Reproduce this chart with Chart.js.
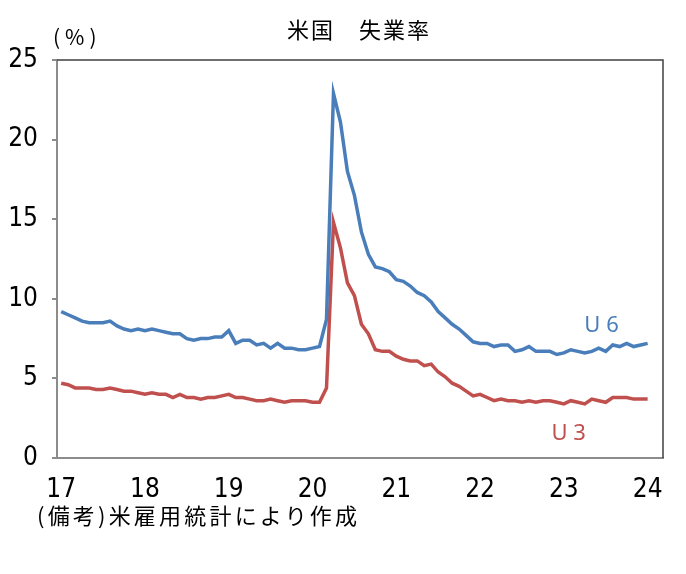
<!DOCTYPE html>
<html>
<head>
<meta charset="utf-8">
<script src="https://cdn.jsdelivr.net/npm/chart.js@4"></script>
<style>
  body { margin: 0; background: #fff; }
  #wrap { position: relative; width: 686px; height: 574px; }
  canvas { position: absolute; left: 0; top: 0; }
  .txt { position: absolute; font-family: "Noto Sans CJK JP", sans-serif; color: #000; white-space: nowrap; line-height: 1; }
  #title { left: 0; width: 718px; top: 17px; text-align: center; font-size: 22px; letter-spacing: 2px; }
  #unit { left: 53px; top: 26px; font-size: 21px; letter-spacing: 5px; }
  #note { left: 37px; top: 503px; font-size: 22px; letter-spacing: 3.2px; }
</style>
</head>
<body>
<div id="wrap">
  <canvas id="grafico" width="686" height="574"></canvas>
  <div class="txt" id="title">米国　失業率</div>
  <div class="txt" id="unit">(%)</div>
  <div class="txt" id="note">(備考)米雇用統計により作成</div>
</div>
<script>
// 月次データ 2017年1月〜2024年1月
const anos = ['17', '18', '19', '20', '21', '22', '23', '24'];

const u6 = [
  9.2, 9.0, 8.8, 8.6, 8.5, 8.5, 8.5, 8.6, 8.3, 8.1, 8.0, 8.1,
  8.0, 8.1, 8.0, 7.9, 7.8, 7.8, 7.5, 7.4, 7.5, 7.5, 7.6, 7.6,
  8.0, 7.2, 7.4, 7.4, 7.1, 7.2, 6.9, 7.2, 6.9, 6.9, 6.8, 6.8,
  6.9, 7.0, 8.7, 22.9, 21.1, 18.0, 16.5, 14.2, 12.8, 12.0, 11.9, 11.7,
  11.2, 11.1, 10.8, 10.4, 10.2, 9.8, 9.2, 8.8, 8.4, 8.1, 7.7, 7.3,
  7.2, 7.2, 7.0, 7.1, 7.1, 6.7, 6.8, 7.0, 6.7, 6.7, 6.7, 6.5,
  6.6, 6.8, 6.7, 6.6, 6.7, 6.9, 6.7, 7.1, 7.0, 7.2, 7.0, 7.1,
  7.2
];

const u3 = [
  4.7, 4.6, 4.4, 4.4, 4.4, 4.3, 4.3, 4.4, 4.3, 4.2, 4.2, 4.1,
  4.0, 4.1, 4.0, 4.0, 3.8, 4.0, 3.8, 3.8, 3.7, 3.8, 3.8, 3.9,
  4.0, 3.8, 3.8, 3.7, 3.6, 3.6, 3.7, 3.6, 3.5, 3.6, 3.6, 3.6,
  3.5, 3.5, 4.4, 14.8, 13.2, 11.0, 10.2, 8.4, 7.8, 6.8, 6.7, 6.7,
  6.4, 6.2, 6.1, 6.1, 5.8, 5.9, 5.4, 5.1, 4.7, 4.5, 4.2, 3.9,
  4.0, 3.8, 3.6, 3.7, 3.6, 3.6, 3.5, 3.6, 3.5, 3.6, 3.6, 3.5,
  3.4, 3.6, 3.5, 3.4, 3.7, 3.6, 3.5, 3.8, 3.8, 3.8, 3.7, 3.7,
  3.7
];

const AZUL = '#4a7ebb';
const VERMELHO = '#c0504d';
const FONTE_NUM = '"Liberation Sans Narrow", "DejaVu Sans Condensed", "Liberation Sans", sans-serif';

const pontos = arr => arr.map((v, i) => ({ x: i, y: v }));

// borda de cima/direita + rótulos U6 / U3
const extras = {
  id: 'extras',
  afterDraw(chart) {
    const { ctx, chartArea: a, scales: { x, y } } = chart;
    ctx.save();
    ctx.strokeStyle = '#404040';
    ctx.lineWidth = 1.5;
    ctx.beginPath();
    ctx.moveTo(a.left, a.top);
    ctx.lineTo(a.right, a.top);
    ctx.lineTo(a.right, a.bottom);
    ctx.stroke();

    ctx.font = '22px "Noto Sans", sans-serif';
    ctx.textAlign = 'center';
    ctx.textBaseline = 'middle';
    ctx.fillStyle = AZUL;
    ctx.fillText('U 6', x.getPixelForValue(77.4), y.getPixelForValue(8.3));
    ctx.fillStyle = VERMELHO;
    ctx.fillText('U 3', x.getPixelForValue(72.7), y.getPixelForValue(1.55));
    ctx.restore();
  }
};

new Chart(document.getElementById('grafico'), {
  type: 'line',
  data: {
    datasets: [
      { label: 'U6', data: pontos(u6), borderColor: AZUL, borderWidth: 3.5, pointRadius: 0, tension: 0 },
      { label: 'U3', data: pontos(u3), borderColor: VERMELHO, borderWidth: 3.5, pointRadius: 0, tension: 0 }
    ]
  },
  options: {
    responsive: false,
    animation: false,
    events: [],
    layout: { padding: { top: 60, right: 23, left: 0, bottom: 0 } },
    plugins: { legend: { display: false }, tooltip: { enabled: false } },
    scales: {
      x: {
        type: 'linear',
        min: -0.6,
        max: 86.2,
        afterFit: s => { s.height = 116; },
        afterBuildTicks: s => { s.ticks = anos.map((_, i) => ({ value: i * 12 })); },
        grid: { display: false, drawTicks: false },
        border: { display: true, color: '#8c8c8c', width: 2 },
        ticks: {
          padding: 17,
          maxRotation: 0,
          autoSkip: false,
          color: '#000',
          font: { family: FONTE_NUM, size: 26 },
          callback: v => anos[v / 12]
        }
      },
      y: {
        min: 0,
        max: 25,
        afterFit: s => { s.width = 57; },
        grid: { display: true, drawOnChartArea: false, drawTicks: true, tickLength: 5, color: '#8c8c8c', lineWidth: 2 },
        border: { display: true, color: '#8c8c8c', width: 2 },
        ticks: {
          stepSize: 5,
          padding: 14,
          color: '#000',
          font: { family: FONTE_NUM, size: 26 }
        }
      }
    }
  },
  plugins: [extras]
});
</script>
</body>
</html>
